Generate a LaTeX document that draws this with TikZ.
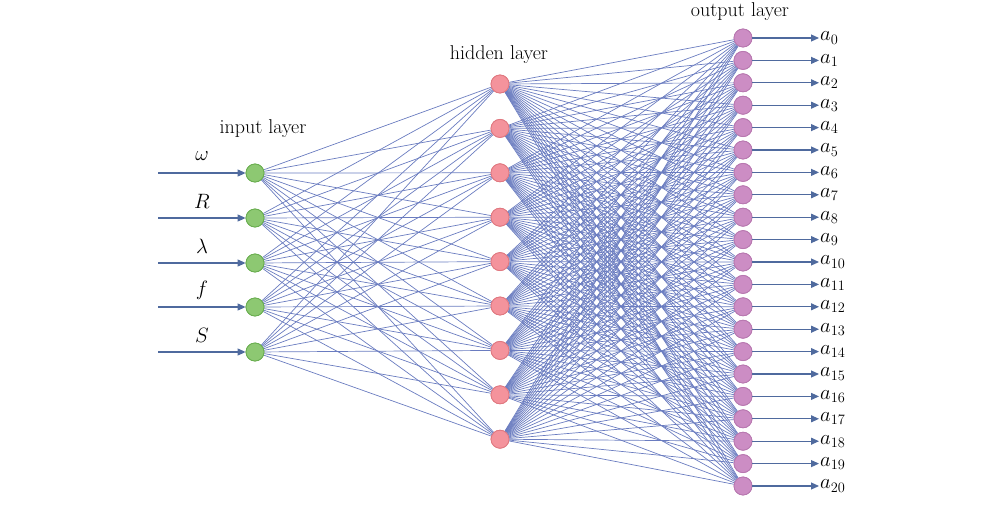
\documentclass[tikz,border=0pt]{standalone}
\usetikzlibrary{arrows.meta}
\definecolor{edgec}{HTML}{6A7CC0}
\definecolor{arrc}{HTML}{4F6A9E}
\definecolor{inf}{HTML}{8DC872}
\definecolor{ind}{HTML}{6AAE50}
\definecolor{hif}{HTML}{F4939C}
\definecolor{hid}{HTML}{E07880}
\definecolor{ouf}{HTML}{CC8DC4}
\definecolor{oud}{HTML}{B878B0}
\begin{document}
\begin{tikzpicture}[x=1pt,y=-1pt,
  neuron/.style={circle,minimum size=18pt,inner sep=0pt,line width=0.8pt},
  inneuron/.style={neuron,fill=inf,draw=ind},
  hidneuron/.style={neuron,fill=hif,draw=hid},
  outneuron/.style={neuron,fill=ouf,draw=oud},
  conn/.style={draw=edgec,line width=0.7pt},
  ioarrow/.style={draw=arrc,line width=1.1pt,-{Triangle[length=8pt,width=7pt]}},
  layerlabel/.style={font=\fontsize{20}{24}\selectfont},
  varlabel/.style={font=\fontsize{21}{25}\selectfont},
  outlabel/.style={font=\fontsize{22}{26}\selectfont,anchor=west,inner sep=1pt}]
\useasboundingbox (0,0) rectangle (1000,506);
% input layer
\foreach \i/\y/\lab in {1/173/\omega,2/218/R,3/263/\lambda,4/307/f,5/352/S}{
  \node[inneuron] (in\i) at (255,\y) {};
  \coordinate (src\i) at (158,\y);
  \node[varlabel] (lab\i) at (202,\y-17) {$\lab$};
}
% hidden layer
\foreach \j in {1,...,9}{
  \node[hidneuron] (hid\j) at (500,{84+44.4*(\j-1)}) {};
}
% output layer
\foreach \k in {0,...,20}{
  \node[outneuron] (out\k) at (743,{38+22.4*\k}) {};
  \node[outlabel] (alab\k) at (819,{38+22.4*\k}) {$a_{\k}$};
}
% connections
\foreach \i in {1,...,5}{
  \foreach \j in {1,...,9}{
    \draw[conn] (in\i) -- (hid\j);
  }
}
\foreach \j in {1,...,9}{
  \foreach \k in {0,...,20}{
    \draw[conn] (hid\j) -- (out\k);
  }
}
% redraw neurons on top
\foreach \i/\y in {1/173,2/218,3/263,4/307,5/352}{
  \node[inneuron] at (255,\y) {};
  \draw[ioarrow] (src\i) -- (in\i);
}
\foreach \j in {1,...,9}{
  \node[hidneuron] at (500,{84+44.4*(\j-1)}) {};
}
\foreach \k in {0,...,20}{
  \node[outneuron] at (743,{38+22.4*\k}) {};
  \draw[ioarrow] (out\k) -- (alab\k.west);
}
\node[layerlabel] (inlab) at (263,129) {input layer};
\node[layerlabel] (hidlab) at (499,55) {hidden layer};
\node[layerlabel] (outlab) at (740,12) {output layer};
\end{tikzpicture}
\end{document}
